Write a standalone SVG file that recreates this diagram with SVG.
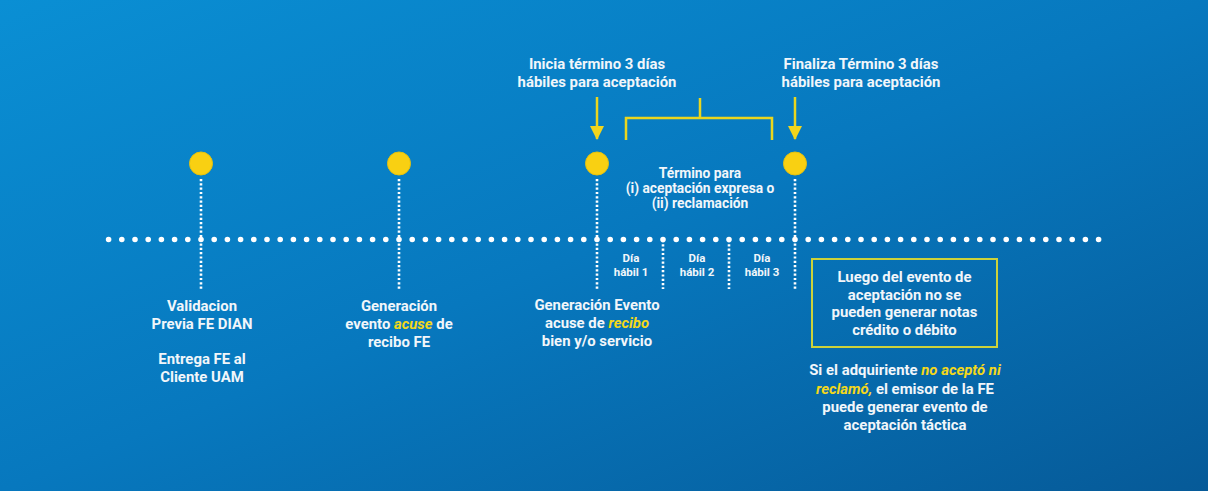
<svg xmlns="http://www.w3.org/2000/svg" width="1208" height="491" viewBox="0 0 1208 491">
<defs>
<linearGradient id="bg" x1="0" y1="0" x2="1" y2="1">
<stop offset="0" stop-color="#0a8fd4"/>
<stop offset="0.5" stop-color="#0778be"/>
<stop offset="1" stop-color="#065a98"/>
</linearGradient>
<marker id="ah" viewBox="0 0 14 14" refX="13" refY="7" markerWidth="14" markerHeight="14" markerUnits="userSpaceOnUse" orient="auto">
<path d="M0,0 L14,7 L0,14 Z" fill="#f2d51c"/>
</marker>
</defs>
<style>
text{font-family:Roboto,"Liberation Sans",sans-serif;font-weight:700;fill:#f1f6fa;text-anchor:middle}
.t{font-size:14.9px}
.m{font-size:13.8px}
.s{font-size:11.5px}
.y{fill:#f4d81a;font-style:italic}
.vd{stroke:#fff;stroke-width:2.6;stroke-dasharray:2.2 2.1;fill:none}
.node{fill:#f9d012;stroke:#e5c20e;stroke-width:1}
.yl{stroke:#ead61e;stroke-width:2.5;fill:none}
</style>
<rect width="1208" height="491" fill="url(#bg)"/>
<g id="connectors">
<line x1="108.6" y1="239.5" x2="1098.7" y2="239.5" stroke="#fff" stroke-width="5.6" stroke-linecap="round" stroke-dasharray="0 13.2"/>
<line class="vd" x1="201" y1="179" x2="201" y2="289"/>
<line class="vd" x1="399" y1="179" x2="399" y2="289"/>
<line class="vd" x1="597" y1="179" x2="597" y2="289"/>
<line class="vd" x1="795" y1="179" x2="795" y2="289"/>
<line class="vd" x1="663" y1="240" x2="663" y2="289"/>
<line class="vd" x1="729" y1="240" x2="729" y2="289"/>
<line class="yl" x1="597" y1="97" x2="597" y2="139" marker-end="url(#ah)"/>
<line class="yl" x1="795" y1="97" x2="795" y2="139" marker-end="url(#ah)"/>
<path class="yl" d="M626,140 V118 H772 V140 M700,118 V98"/>
</g>
<g id="n1">
<circle class="node" cx="201" cy="163.5" r="11.5"/>
<text class="t" x="202" y="311">Validacion</text>
<text class="t" x="202" y="329">Previa FE DIAN</text>
<text class="t" x="202" y="364">Entrega FE al</text>
<text class="t" x="202" y="382">Cliente UAM</text>
</g>
<g id="n2">
<circle class="node" cx="399" cy="163.5" r="11.5"/>
<text class="t" x="399" y="311">Generación</text>
<text class="t" x="399" y="329">evento <tspan class="y">acuse</tspan> de</text>
<text class="t" x="399" y="347">recibo FE</text>
</g>
<g id="n3">
<circle class="node" cx="597" cy="163.5" r="11.5"/>
<text class="t" x="597" y="69">Inicia término 3 días</text>
<text class="t" x="597" y="87">hábiles para aceptación</text>
<text class="t" x="597" y="310">Generación Evento</text>
<text class="t" x="597" y="328">acuse de <tspan class="y">recibo</tspan></text>
<text class="t" x="597" y="346">bien y/o servicio</text>
</g>
<g id="term">
<text class="m" x="700" y="178">Término para</text>
<text class="m" x="700" y="193">(i) aceptación expresa o</text>
<text class="m" x="700" y="208">(ii) reclamación</text>
</g>
<g id="dia1">
<text class="s" x="631" y="262">Día</text>
<text class="s" x="631" y="276">hábil 1</text>
</g>
<g id="dia2">
<text class="s" x="697" y="262">Día</text>
<text class="s" x="697" y="276">hábil 2</text>
</g>
<g id="dia3">
<text class="s" x="762" y="262">Día</text>
<text class="s" x="762" y="276">hábil 3</text>
</g>
<g id="n4">
<circle class="node" cx="795" cy="163.5" r="11.5"/>
<text class="t" x="861" y="69">Finaliza Término 3 días</text>
<text class="t" x="861" y="87">hábiles para aceptación</text>
</g>
<g id="box">
<rect x="812" y="259" width="185" height="88" fill="none" stroke="#cdd23a" stroke-width="2"/>
<text class="t" x="904.5" y="282">Luego del evento de</text>
<text class="t" x="904.5" y="299.5">aceptación no se</text>
<text class="t" x="904.5" y="317">pueden generar notas</text>
<text class="t" x="904.5" y="334.5">crédito o débito</text>
</g>
<g id="nota">
<text class="t" x="905" y="375">Si el adquiriente <tspan class="y">no aceptó ni</tspan></text>
<text class="t" x="905" y="394"><tspan class="y">reclamó,</tspan> el emisor de la FE</text>
<text class="t" x="905" y="412">puede generar evento de</text>
<text class="t" x="905" y="430">aceptación táctica</text>
</g>
</svg>
